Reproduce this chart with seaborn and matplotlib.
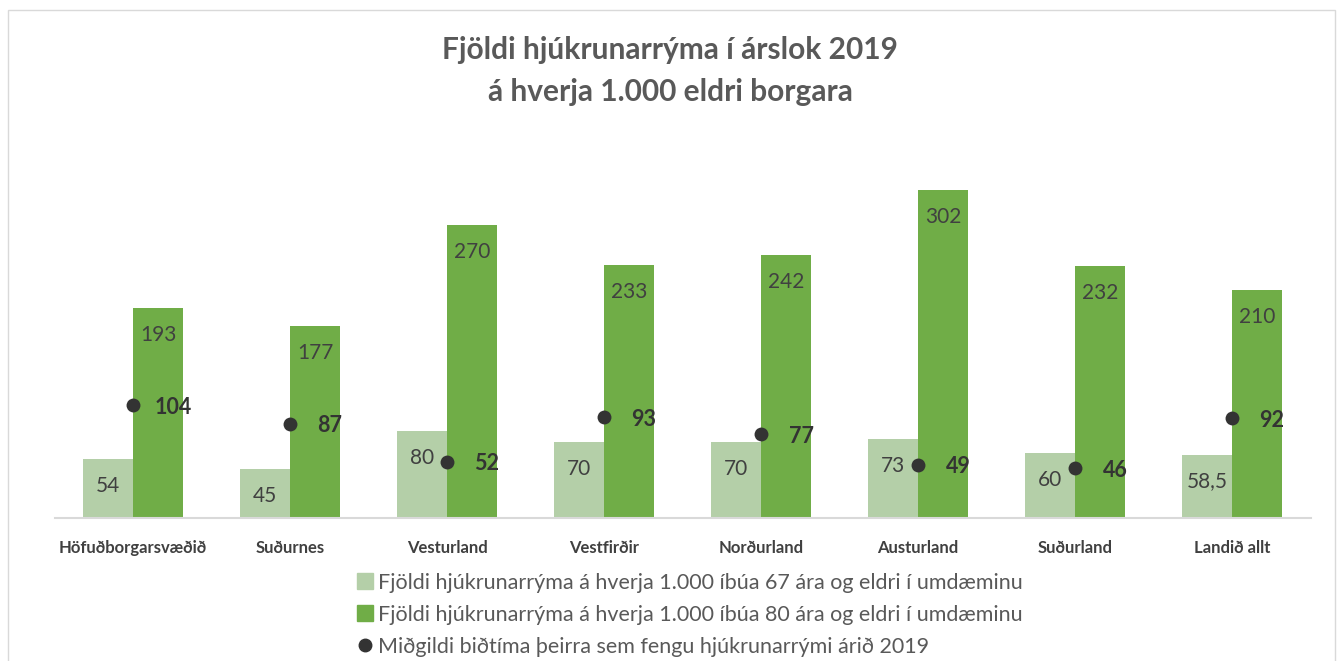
import numpy as np
import pandas as pd
import matplotlib
matplotlib.use("Agg")
import matplotlib.pyplot as plt
from matplotlib.lines import Line2D
from matplotlib.patches import Rectangle
import seaborn as sns

# data
regions = ["Höfuðborgarsvæðið", "Suðurnes", "Vesturland", "Vestfirðir",
           "Norðurland", "Austurland", "Suðurland", "Landið allt"]
rooms_67 = [54, 45, 80, 70, 70, 73, 60, 58.5]
rooms_80 = [193, 177, 270, 233, 242, 302, 232, 210]
wait_median = [104, 87, 52, 93, 77, 49, 46, 92]

lbl_67 = "Fjöldi hjúkrunarrýma á hverja 1.000 íbúa 67 ára og eldri í umdæminu"
lbl_80 = "Fjöldi hjúkrunarrýma á hverja 1.000 íbúa 80 ára og eldri í umdæminu"
lbl_wait = "Miðgildi biðtíma þeirra sem fengu hjúkrunarrými árið 2019"

light = "#b4cfa8"
dark = "#70ad47"
dot = "#333333"
txt = "#404040"

sns.set_theme(style="white")
plt.rcParams["font.family"] = ["Lato", "DejaVu Sans"]

df = pd.DataFrame({
    "region": regions * 2,
    "value": rooms_67 + rooms_80,
    "series": [lbl_67] * len(regions) + [lbl_80] * len(regions),
})

fig = plt.figure(figsize=(13.4, 6.61), dpi=100)
ax = fig.add_axes([0.0407, 0.2163, 0.9373, 0.5749])

sns.barplot(data=df, x="region", y="value", hue="series", order=regions,
            hue_order=[lbl_67, lbl_80], palette=[light, dark],
            width=0.637, gap=0, saturation=1, legend=False, linewidth=0,
            ax=ax)
sns.stripplot(x=regions, y=wait_median, order=regions, jitter=False,
              color=dot, size=10, linewidth=0, ax=ax, zorder=5)

def fmt(v):
    return (f"{v:g}").replace(".", ",")

for cont in ax.containers:
    for rect in cont:
        v = rect.get_height()
        ax.annotate(fmt(v), (rect.get_x() + rect.get_width() / 2, v),
                    xytext=(0, -27), textcoords="offset pixels",
                    ha="center", va="center", fontsize=15, color=txt)

for i, w in enumerate(wait_median):
    ax.annotate(str(w), (i, w), xytext=(40, -2), textcoords="offset pixels",
                ha="center", va="center", fontsize=15.5, fontweight="bold",
                color="#333333")

ax.set_xlim(-0.5, len(regions) - 0.5)
ax.set_ylim(0, 350)
ax.set_xlabel("")
ax.set_ylabel("")
ax.set_yticks([])
for s in ["top", "left", "right"]:
    ax.spines[s].set_visible(False)
ax.spines["bottom"].set_color("#d9d9d9")
ax.spines["bottom"].set_linewidth(1.5)
ax.tick_params(axis="x", length=0, pad=16)
for t in ax.get_xticklabels():
    t.set_fontweight("bold")
    t.set_fontsize(12)
    t.set_color(txt)

fig.text(0.5, 1 - 50 / 661, "Fjöldi hjúkrunarrýma í árslok 2019", ha="center",
         va="center", fontsize=21.5, fontweight="bold", color="#595959")
fig.text(0.5, 1 - 92 / 661, "á hverja 1.000 eldri borgara", ha="center",
         va="center", fontsize=21.5, fontweight="bold", color="#595959")

handles = [
    Line2D([], [], marker="s", linestyle="", markersize=11, color=light),
    Line2D([], [], marker="s", linestyle="", markersize=11, color=dark),
    Line2D([], [], marker="o", linestyle="", markersize=9, color=dot),
]
leg = fig.legend(handles, [lbl_67, lbl_80, lbl_wait], loc="upper left",
                 bbox_to_anchor=(359 / 1340, 1 - 573 / 661), frameon=False,
                 fontsize=15.5, handlelength=0.6, handletextpad=0.3,
                 labelspacing=0.55, borderaxespad=0, borderpad=0)
for t in leg.get_texts():
    t.set_color("#595959")

fig.patches.append(Rectangle((8 / 1340, -0.05), 1327 / 1340, 1.05 - 10 / 661,
                             transform=fig.transFigure, fill=False,
                             edgecolor="#d9d9d9", linewidth=1))

fig.savefig("out.png", dpi=100)
